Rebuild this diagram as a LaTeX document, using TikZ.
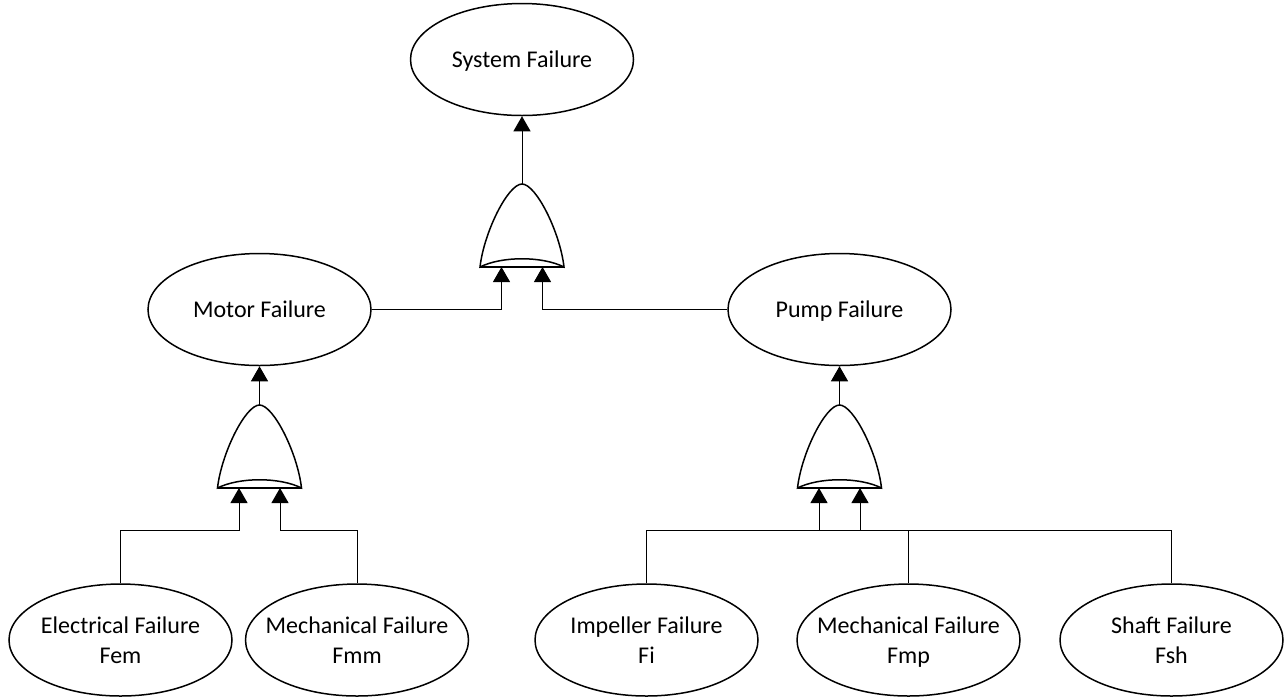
\documentclass[tikz,border=0pt]{standalone}
\usepackage{fontspec}
\setmainfont{Carlito}
\usepackage{tikz}
\usetikzlibrary{arrows.meta,shapes.geometric}

\begin{document}
\begin{tikzpicture}[x=0.5pt, y=-0.5pt,
		event/.style={draw, ellipse, line width=0.75pt, minimum width=111.5pt, minimum height=56pt, inner xsep=-15pt, inner ysep=0pt,
			text depth=0pt, align=center, font=\fontsize{12}{15}\selectfont},
		link/.style={line width=0.5pt},
		up/.style={link, -{Triangle[width=8.5pt,length=7.5pt]}},
		orgate/.pic={
			\filldraw[fill=white, line width=0.75pt] (-42,0) .. controls (-38,-35) and (-14,-83) .. (0,-83)
				.. controls (14,-83) and (38,-35) .. (42,0) .. controls (20,-11) and (-20,-11) .. (-42,0) -- cycle;
			\draw[line width=0.75pt] (-42,0) -- (42,0);
			\coordinate (-out) at (0,-83);
			\coordinate (-in1) at (-20.5,0);
			\coordinate (-in2) at (20.5,0);
			\coordinate (-bus1) at (-20.5,42);
			\coordinate (-bus2) at (20.5,42);
		}]
		\useasboundingbox (0,0) rectangle (1285,698);
		%events
		\node[event] (sys) at (522,59.5) {System Failure};
		\node[event] (motor) at (259.5,309.5) {Motor Failure};
		\node[event] (pump) at (839.5,309.5) {Pump Failure};
		\node[event] (elec) at (120.5,640) {Electrical Failure\\Fem};
		\node[event] (mechm) at (357,640) {Mechanical Failure\\Fmm};
		\node[event] (imp) at (646.5,640) {Impeller Failure\\Fi};
		\node[event] (mechp) at (908.5,640) {Mechanical Failure\\Fmp};
		\node[event] (shaft) at (1171.5,640) {Shaft Failure\\Fsh};
		%gates
		\pic (gs) at (522,267) {orgate};
		\pic (gm) at (259.5,488) {orgate};
		\pic (gp) at (839.5,488) {orgate};
		%connectors
		\draw[up] (gs-out) -- (sys.south);
		\draw[up] (gm-out) -- (motor.south);
		\draw[up] (gp-out) -- (pump.south);
		\draw[up] (motor.east) -| (gs-in1);
		\draw[up] (pump.west) -| (gs-in2);
		\draw[up] (elec.north) |- (gm-bus1) -- (gm-in1);
		\draw[up] (mechm.north) |- (gm-bus2) -- (gm-in2);
		\draw[link] (imp.north) |- (shaft.north |- gp-bus1) -- (shaft.north);
		\draw[link] (mechp.north) -- (mechp.north |- gp-bus2);
		\draw[up] (gp-bus1) -- (gp-in1);
		\draw[up] (gp-bus2) -- (gp-in2);
\end{tikzpicture}
\end{document}
